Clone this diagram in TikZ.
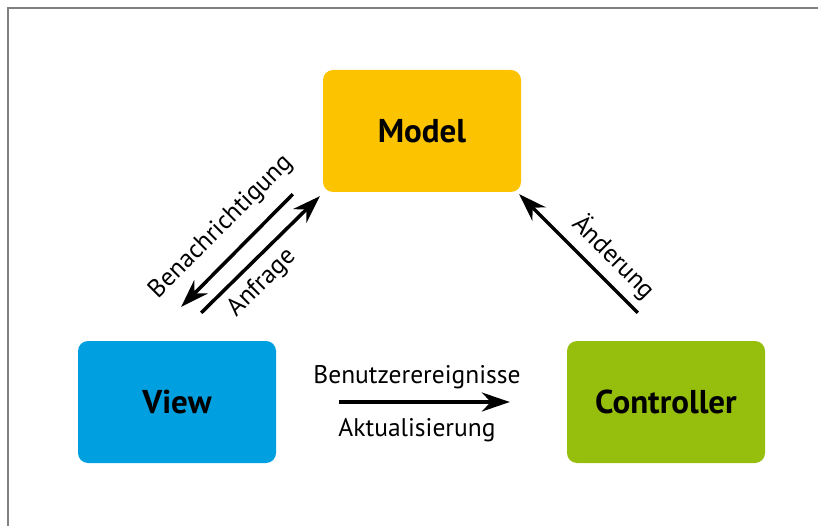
\documentclass[tikz,border=0pt]{standalone}
\usepackage{fontspec}
\setmainfont{PT Sans}
\usetikzlibrary{arrows, arrows.meta}

\definecolor{modelyellow}{HTML}{FCC300}
\definecolor{viewblue}{HTML}{009FE0}
\definecolor{ctrlgreen}{HTML}{96BE0D}

\begin{document}
\begin{tikzpicture}[x=1pt, y=-1pt,
    box/.style={rectangle, rounded corners=10pt, minimum width=198pt, minimum height=122pt, inner sep=0pt, font=\bfseries\fontsize{33}{38}\selectfont},
    flow/.style={line width=3.5pt, -{Stealth[length=28pt, width=19pt, inset=9pt]}},
    lbl/.style={inner sep=1pt, font=\fontsize{25.5}{30}\selectfont}]
      \useasboundingbox (0,0) rectangle (818,526);
      \draw[gray, line width=1.5pt] (8,526) -- (8,8) -- (818,8);

      \node[box, fill=modelyellow] (model) at (422,131) {Model};
      \node[box, fill=viewblue] (view) at (177,402) {View};
      \node[box, fill=ctrlgreen] (controller) at (666,402) {Controller};

      % ends of the arrows
      \coordinate (notifyA) at ([xshift=-30pt, yshift=-2pt]model.south west);
      \coordinate (notifyB) at ([xshift=-95pt, yshift=34pt]view.north east);
      \coordinate (queryA) at ([xshift=-75pt, yshift=28pt]view.north east);
      \coordinate (queryB) at ([xshift=-3pt, yshift=-4pt]model.south west);
      \coordinate (changeA) at ([xshift=71pt, yshift=28pt]controller.north west);
      \coordinate (changeB) at ([xshift=-2pt, yshift=-2pt]model.south east);
      \coordinate (eventA) at ([xshift=63pt]view.east);
      \coordinate (eventB) at ([xshift=-57pt]controller.west);

      \draw[flow] (notifyA) -- (notifyB);
      \draw[flow] (queryA) -- (queryB);
      \draw[flow] (changeA) -- (changeB);
      \draw[flow] (eventA) -- (eventB);

      \node[lbl, rotate=45] (notify) at (221,227) {Benachrichtigung};
      \node[lbl, rotate=45] (query) at (262,283) {Anfrage};
      \node[lbl, rotate=-45] (change) at (614,257) {Änderung};
      \node[lbl] (events) at (417,377) {Benutzerereignisse};
      \node[lbl] (update) at (417,430) {Aktualisierung};
\end{tikzpicture}
\end{document}
